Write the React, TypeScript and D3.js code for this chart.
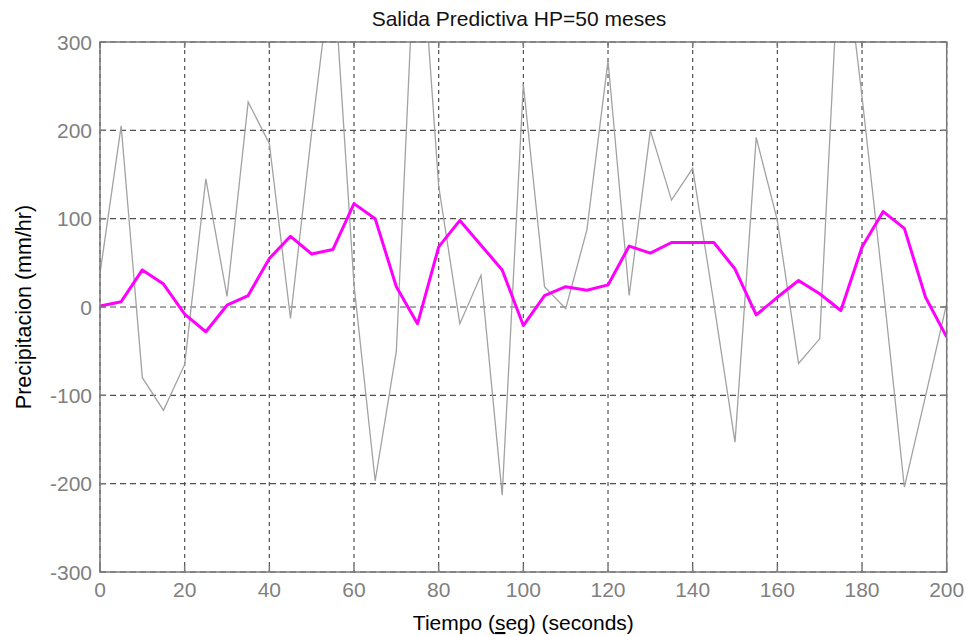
import React from "react";
import * as d3 from "d3";

const timeSteps = [0, 5, 10, 15, 20, 25, 30, 35, 40, 45, 50, 55, 60, 65, 70, 75, 80, 85, 90, 95, 100, 105, 110, 115, 120, 125, 130, 135, 140, 145, 150, 155, 160, 165, 170, 175, 180, 185, 190, 195, 200];
const measured = [38, 205, -80, -117, -65, 145, 12, 232, 185, -13, 198, 394, 25, -197, -50, 478, 137, -19, 36, -213, 252, 23, -2, 87, 279, 13, 200, 121, 157, 4, -153, 192, 98, -64, -36, 440, 238, 22, -204, -101, 4];
const predicted = [1, 6, 42, 26, -8, -28, 2, 13, 55, 80, 60, 65, 117, 100, 23, -19, 68, 98, 70, 42, -21, 13, 23, 19, 25, 69, 61, 73, 73, 73, 43, -9, 11, 30, 15, -4, 68, 108, 89, 11, -34];
const xTicks = [0, 20, 40, 60, 80, 100, 120, 140, 160, 180, 200];
const yTicks = [-300, -200, -100, 0, 100, 200, 300];

const W = 966, H = 636;
const L = 100, R = 946.7, T = 42, B = 572;
const FONT = "Arial, 'Liberation Sans', sans-serif";

export default function App() {
  const x = d3.scaleLinear().domain([0, 200]).range([L, R]);
  const y = d3.scaleLinear().domain([-300, 300]).range([B, T]);
  const line = d3.line<number>().x((_, i) => x(timeSteps[i])).y((d) => y(d));
  const axisColor = "#7a7a7a";
  const gridColor = "#505050";
  const tickLen = 6;
  return (
    <svg width={W} height={H} style={{ position: "absolute", left: 0, top: 0, background: "#fff" }} fontFamily={FONT}>
      <defs>
        <clipPath id="plot">
          <rect x={L} y={T} width={R - L} height={B - T} />
        </clipPath>
      </defs>
      <rect x={L} y={T} width={R - L} height={B - T} fill="#fff" />
      {xTicks.map((t) => (
        <line key={"gx" + t} x1={x(t)} x2={x(t)} y1={T} y2={B} stroke={gridColor} strokeWidth={1.2} strokeDasharray="4,4" />
      ))}
      {yTicks.map((t) => (
        <line key={"gy" + t} x1={L} x2={R} y1={y(t)} y2={y(t)} stroke={gridColor} strokeWidth={1.2} strokeDasharray="6,4" />
      ))}
      <g clipPath="url(#plot)">
        <path d={line(measured) || ""} fill="none" stroke="#a2a2a2" strokeWidth={1.3} />
        <path d={line(predicted) || ""} fill="none" stroke="#ff00ff" strokeWidth={3} strokeLinejoin="round" />
      </g>
      <rect x={L} y={T} width={R - L} height={B - T} fill="none" stroke={axisColor} strokeWidth={1.5} />
      {xTicks.map((t) => (
        <g key={"tx" + t}>
          <line x1={x(t)} x2={x(t)} y1={B} y2={B - tickLen} stroke={axisColor} strokeWidth={1.5} />
          <line x1={x(t)} x2={x(t)} y1={T} y2={T + tickLen} stroke={axisColor} strokeWidth={1.5} />
          <text x={x(t)} y={597} textAnchor="middle" fontSize={21} fill="#7f7f7f">{t}</text>
        </g>
      ))}
      {yTicks.map((t) => (
        <g key={"ty" + t}>
          <line x1={L} x2={L + tickLen} y1={y(t)} y2={y(t)} stroke={axisColor} strokeWidth={1.5} />
          <line x1={R} x2={R - tickLen} y1={y(t)} y2={y(t)} stroke={axisColor} strokeWidth={1.5} />
          <text x={92} y={y(t) + 7.5} textAnchor="end" fontSize={21} fill="#7f7f7f">{t}</text>
        </g>
      ))}
      <text x={519} y={26} textAnchor="middle" fontSize={21} fill="#111">Salida Predictiva HP=50 meses</text>
      <text x={(L + R) / 2} y={630} textAnchor="middle" fontSize={21} fill="#000">
        Tiempo (<tspan textDecoration="underline">s</tspan>eg) (seconds)
      </text>
      <text transform={`translate(31,${(T + B) / 2}) rotate(-90)`} textAnchor="middle" fontSize={21.5} fill="#000">Precipitacion (mm/hr)</text>
    </svg>
  );
}
